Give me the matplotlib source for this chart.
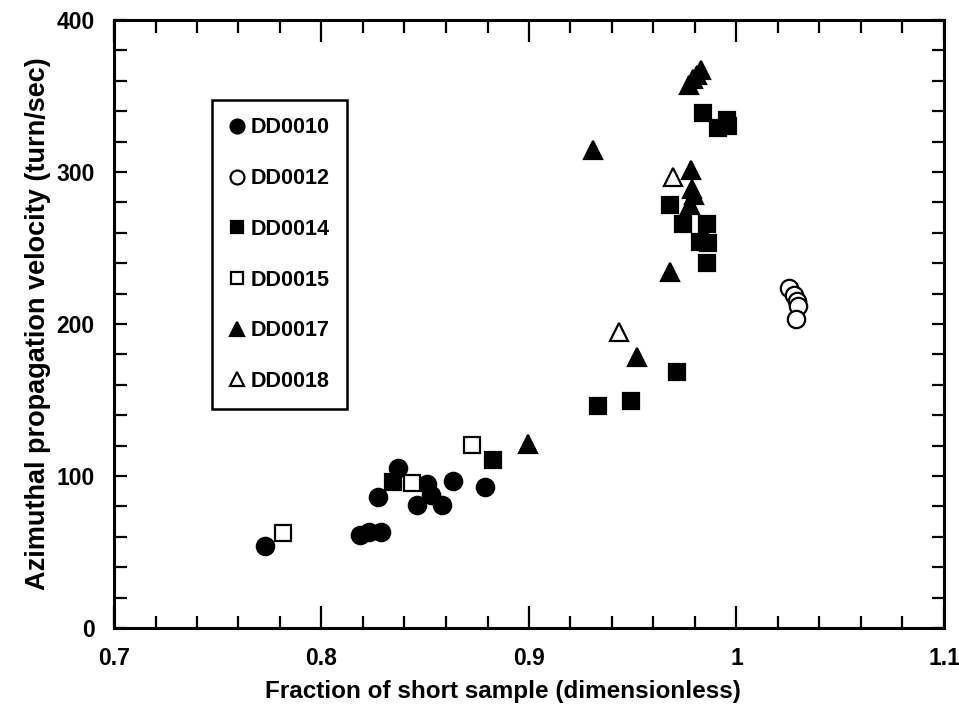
import matplotlib
matplotlib.use("Agg")
import matplotlib.pyplot as plt
from matplotlib.ticker import MultipleLocator

plt.rcParams['font.family'] = ['Liberation Sans', 'DejaVu Sans']

# ---- data ----
dd0010_x = [0.7728, 0.8186, 0.8229, 0.8287, 0.827, 0.8369, 0.851, 0.846, 0.853, 0.858, 0.8632, 0.8788]
dd0010_y = [54, 61, 63, 63, 86.4, 105, 95, 81, 87.5, 81, 96.7, 93]

dd0012_x = [1.0254, 1.0277, 1.0290, 1.0295, 1.0287]
dd0012_y = [224, 219, 215, 212, 203]

dd0014_x = [0.8345, 0.8828, 0.9334, 0.949, 0.9712, 0.968, 0.9744, 0.986, 0.9824, 0.9864, 0.986,
            0.984, 0.9953, 0.9912, 0.9960]
dd0014_y = [96, 110.5, 146, 149.5, 168.6, 278, 266, 266, 254, 253, 240,
            338.6, 334, 328.7, 330]

dd0015_x = [0.7816, 0.8436, 0.8724]
dd0015_y = [62.7, 95.4, 120.4]

dd0017_x = [0.8997, 0.9522, 0.968, 0.931, 0.978, 0.9784, 0.9795, 0.9776, 0.977, 0.979, 0.981, 0.983]
dd0017_y = [121, 178.5, 234, 314.5, 301, 289, 285, 278, 357, 361, 364, 367]

dd0018_x = [0.9434, 0.9695]
dd0018_y = [195, 297]

x_ticks = [0.7, 0.8, 0.9, 1.0, 1.1]
x_tick_labels = ['0.7', '0.8', '0.9', '1', '1.1']

series = [
    ("DD0010", dd0010_x, dd0010_y, 'o', 'black'),
    ("DD0012", dd0012_x, dd0012_y, 'o', 'white'),
    ("DD0014", dd0014_x, dd0014_y, 's', 'black'),
    ("DD0015", dd0015_x, dd0015_y, 's', 'white'),
    ("DD0017", dd0017_x, dd0017_y, '^', 'black'),
    ("DD0018", dd0018_x, dd0018_y, '^', 'white'),
]
msizes = {'o': 12.5, 's': 11.5, '^': 12.5}

fig = plt.figure(figsize=(9.59, 7.21), dpi=100)
ax = fig.add_axes([114/959, 1-628/721, 830/959, 608/721])

for name, xs, ys, m, fc in series:
    ax.plot(xs, ys, linestyle='none', marker=m, markersize=msizes[m],
            markerfacecolor=fc, markeredgecolor='black', markeredgewidth=1.6,
            label=name)

ax.set_xlim(0.7, 1.1)
ax.set_ylim(0, 400)
ax.xaxis.set_minor_locator(MultipleLocator(0.02))
ax.yaxis.set_major_locator(MultipleLocator(100))
ax.yaxis.set_minor_locator(MultipleLocator(20))
ax.set_xticks(x_ticks)
ax.set_xticklabels(x_tick_labels)

ax.tick_params(which='both', direction='in', top=True, right=True, width=1.6,
               labelsize=16.5, pad=14)
ax.tick_params(axis='x', which='major', length=16)
ax.tick_params(axis='x', which='minor', length=9)
ax.tick_params(axis='y', which='both', length=9)
for lab in ax.get_xticklabels() + ax.get_yticklabels():
    lab.set_fontweight('bold')
for sp in ax.spines.values():
    sp.set_linewidth(2.2)

ax.set_xlabel('Fraction of short sample (dimensionless)', fontsize=17.5,
              fontweight='bold', labelpad=7)
ax.xaxis.set_label_coords(0.469, -0.085)
ax.set_ylabel('Azimuthal propagation velocity (turn/sec)', fontsize=19.5,
              fontweight='bold', labelpad=4)

leg = ax.legend(loc='upper left', bbox_to_anchor=(0.118, 0.868), frameon=True,
                fancybox=False, edgecolor='black', framealpha=1,
                prop={'size': 15.5, 'weight': 'bold'}, markerscale=0.8,
                handlelength=0.7, handletextpad=0.3, labelspacing=1.38,
                borderpad=0.8, borderaxespad=0)
leg.get_frame().set_linewidth(1.8)

fig.savefig('out.png', dpi=100)
